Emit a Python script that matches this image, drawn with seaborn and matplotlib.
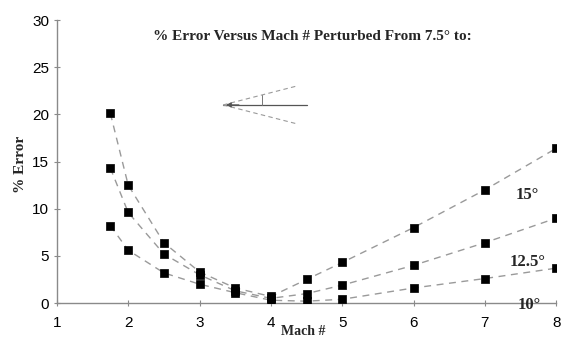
import numpy as np
import pandas as pd
import seaborn as sns
import matplotlib.pyplot as plt

mach = [1.75, 2, 2.5, 3, 3.5, 4, 4.5, 5, 6, 7, 8]
err_15 = [20.1, 12.5, 6.4, 3.3, 1.6, 0.7, 2.5, 4.3, 8.0, 12.0, 16.4]
err_125 = [14.3, 9.6, 5.2, 3.0, 1.3, 0.5, 1.0, 1.9, 4.0, 6.4, 9.0]
err_10 = [8.2, 5.6, 3.2, 2.0, 1.1, 0.3, 0.2, 0.4, 1.6, 2.6, 3.7]
labels = ["15°", "12.5°", "10°"]

df = pd.DataFrame({
    "Mach": mach * 3,
    "Error": err_15 + err_125 + err_10,
    "angle": np.repeat(labels, len(mach)),
})

sns.set_style("ticks")
plt.rcParams["font.family"] = ["Liberation Sans", "DejaVu Sans"]

fig = plt.figure(figsize=(5.63, 3.39), dpi=100)
ax = fig.add_axes([0.101, 0.106, 0.887, 0.835])

sns.lineplot(data=df, x="Mach", y="Error", hue="angle", palette=["#9a9a9a"] * 3,
             linestyle=(0, (5, 4)), linewidth=1.0, legend=False, ax=ax)
sns.scatterplot(data=df, x="Mach", y="Error", color="black", marker="s", s=38,
                edgecolor="black", linewidth=0.5, zorder=5, ax=ax)

ax.set_xlim(1, 8)
ax.set_ylim(0, 30)
ax.set_xticks(range(1, 9))
ax.set_yticks(range(0, 31, 5))
for s in ["top", "right"]:
    ax.spines[s].set_visible(False)
for s in ["left", "bottom"]:
    ax.spines[s].set_color("#8a8a8a")
    ax.spines[s].set_linewidth(1.0)
ax.tick_params(axis="both", direction="inout", length=5, color="#8a8a8a",
               labelsize=11, labelcolor="black")
ax.tick_params(axis="x", pad=7)
ax.tick_params(axis="y", pad=3)
ax.set_xlabel("")
ax.set_ylabel("")

serif = "Liberation Serif"
ax.text(0.511, 0.94, "% Error Versus Mach # Perturbed From 7.5° to:", transform=ax.transAxes,
        ha="center", va="center", fontsize=11, fontweight="bold", family=serif)
ax.text(-0.072, 0.49, "% Error", transform=ax.transAxes, rotation=90,
        ha="center", va="center", fontsize=11, fontweight="bold", family=serif)
ax.text(0.493, -0.099, "Mach #", transform=ax.transAxes, ha="center", va="center",
        fontsize=10, fontweight="bold", family=serif, clip_on=False)

for lab, (lx, ly) in zip(labels, [(7.6, 11.5), (7.6, 4.3), (7.62, -0.2)]):
    ax.text(lx, ly, lab, ha="center", va="center", fontsize=12, family=serif,
            fontweight="bold", clip_on=False, zorder=6)

# cone sketch
tr = ax.transAxes
ax.plot([0.333, 0.501], [0.700, 0.700], color="#555555", lw=0.9, transform=tr)
ax.plot([0.333, 0.481], [0.700, 0.767], color="#9a9a9a", lw=0.8, ls=(0, (4, 3)), transform=tr)
ax.plot([0.333, 0.481], [0.700, 0.633], color="#9a9a9a", lw=0.8, ls=(0, (4, 3)), transform=tr)
ax.annotate("", xy=(0.333, 0.700), xytext=(0.37, 0.700), xycoords=tr,
            arrowprops=dict(arrowstyle="-|>", color="#555555", lw=0.9, mutation_scale=7))
ax.plot([0.411, 0.411], [0.700, 0.735], color="#777777", lw=0.7, transform=tr)

fig.savefig("out.png", dpi=100)
